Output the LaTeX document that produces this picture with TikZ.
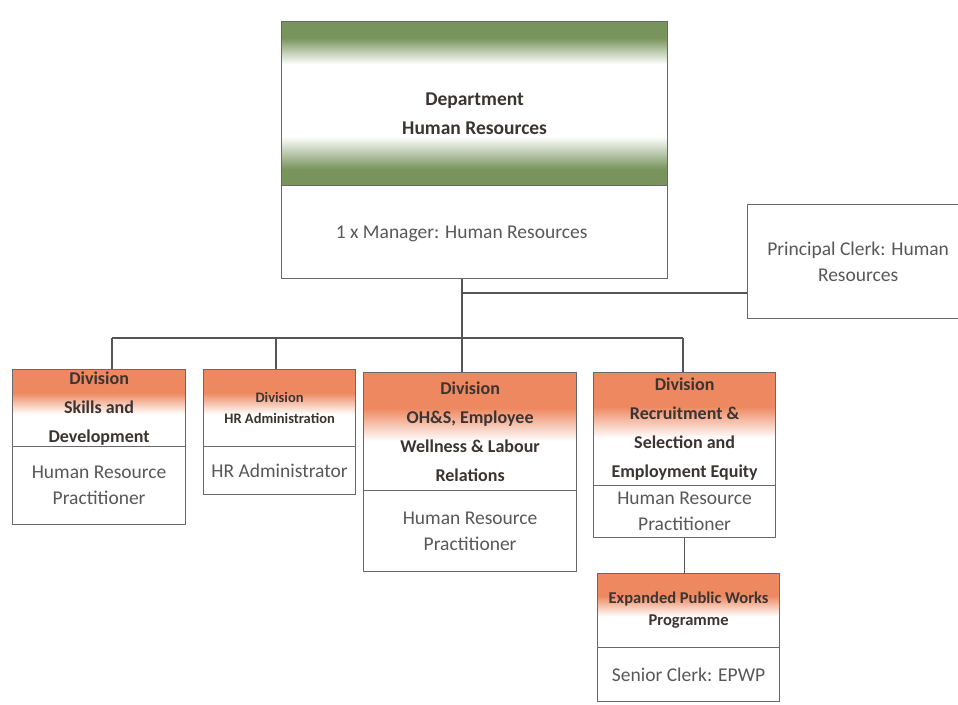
\documentclass[tikz,border=0pt]{standalone}
\usepackage{fontspec}
\setmainfont{Carlito}

\definecolor{deptgreen}{RGB}{120,148,92}
\definecolor{divorange}{RGB}{238,136,96}
\definecolor{framegray}{RGB}{105,105,105}
\definecolor{linkgray}{RGB}{85,85,85}
\definecolor{headtext}{RGB}{58,52,50}
\definecolor{bodytext}{RGB}{88,88,88}

% green band at top and bottom, white in the middle
\pgfdeclareverticalshading{deptshade}{100bp}{color(0bp)=(deptgreen); color(30bp)=(deptgreen); color(40bp)=(white); color(62bp)=(white); color(70bp)=(deptgreen); color(100bp)=(deptgreen)}
% orange at the top fading to white
\pgfdeclareverticalshading{divshade}{100bp}{color(0bp)=(white); color(46bp)=(white); color(60bp)=(divorange); color(100bp)=(divorange)}

\tikzset{
  box/.style={draw=framegray, line width=1.2pt, rectangle, inner sep=0pt, align=center, anchor=north west},
  depthead/.style={box, shading=deptshade},
  divhead/.style={box, shading=divshade, text=headtext, font=\fontsize{18}{29}\selectfont\bfseries},
  post/.style={box, fill=white, text=bodytext, font=\fontsize{19.5}{26}\selectfont},
  caption/.style={inner sep=0pt, align=center},
  link/.style={draw=linkgray, line width=1.1pt},
}

\begin{document}
\begin{tikzpicture}[x=1pt, y=-1pt]
\path[use as bounding box, clip] (0,0) rectangle (958,704);

% department
\node[depthead, minimum width=386pt, minimum height=164pt] (dept) at (281,21) {};
\node[caption, text=headtext, font=\fontsize{19.5}{29}\selectfont\bfseries] (depttext) at ([yshift=-10pt]dept.center) {Department\\Human Resources};
\node[post, minimum width=386pt, minimum height=93pt] (mgr) at (281,185) {};
\node[caption, text=bodytext, font=\fontsize{19.5}{26}\selectfont] (mgrtext) at ([xshift=-13pt, yshift=-2pt]mgr.center) {1 x Manager: Human Resources};

% staff attached to the manager
\node[post, minimum width=221pt, minimum height=114pt] (pclerk) at (747,204) {Principal Clerk: Human\\Resources};

% divisions
\node[divhead, minimum width=173pt, minimum height=77pt] (skh) at (12,369) {Division\\Skills and\\Development};
\node[post, minimum width=173pt, minimum height=78pt] (skb) at (12,446) {Human Resource\\Practitioner};

\node[divhead, font=\fontsize{14.5}{21}\selectfont\bfseries, minimum width=152pt, minimum height=77pt] (hrh) at (203,369) {Division\\HR Administration};
\node[post, minimum width=152pt, minimum height=48pt] (hrb) at (203,446) {HR Administrator};

\node[divhead, minimum width=213pt, minimum height=118pt] (ohsh) at (363,372) {Division\\OH\&S, Employee\\Wellness \& Labour\\Relations};
\node[post, minimum width=213pt, minimum height=81pt] (ohsb) at (363,490) {Human Resource\\Practitioner};

\node[divhead, minimum width=182pt, minimum height=113pt] (rech) at (593,372) {Division\\Recruitment \&\\Selection and\\Employment Equity};
\node[post, minimum width=182pt, minimum height=52pt] (recb) at (593,485) {Human Resource\\Practitioner};

\node[divhead, font=\fontsize{16.5}{22}\selectfont\bfseries, minimum width=182pt, minimum height=74pt] (epwh) at (597,573) {Expanded Public Works\\Programme};
\node[post, minimum width=182pt, minimum height=54pt] (epwb) at (597,647) {Senior Clerk: EPWP};

% connectors
\coordinate (spine) at (462,338);
\coordinate (side) at (462,293);
\coordinate (d1) at (112,338);
\coordinate (d2) at (276,338);
\coordinate (d4) at (683,338);

\draw[link] (mgr.south -| spine) -- (ohsh.north -| spine);
\draw[link] (side) -- (side -| pclerk.west);
\draw[link] (d1) -- (d4);
\draw[link] (d1) -- (d1 |- skh.north);
\draw[link] (d2) -- (d2 |- hrh.north);
\draw[link] (d4) -- (d4 |- rech.north);
\draw[link] (recb.south) -- (recb.south |- epwh.north);
\end{tikzpicture}
\end{document}
